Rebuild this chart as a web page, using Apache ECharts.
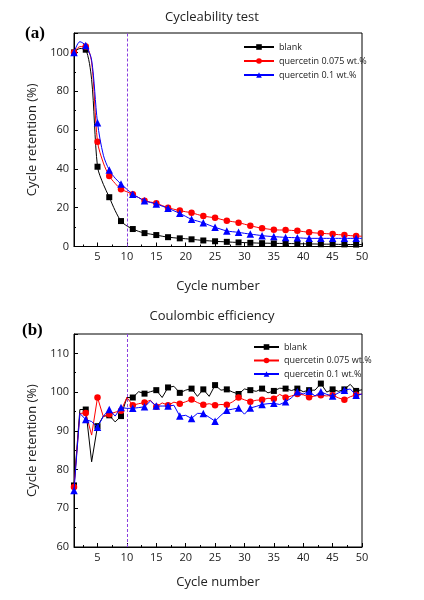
<!DOCTYPE html>
<html>
<head>
<meta charset="utf-8">
<script src="https://cdn.jsdelivr.net/npm/echarts@6/dist/echarts.min.js"></script>
<style>html,body{margin:0;padding:0;background:#fff}#c{width:424px;height:600px}</style>
</head>
<body>
<div id="c"></div>
<script>
var cycles = [1,2,3,4,5,6,7,8,9,10,11,12,13,14,15,16,17,18,19,20,21,22,23,24,25,26,27,28,29,30,31,32,33,34,35,36,37,38,39,40,41,42,43,44,45,46,47,48,49,50];
var seriesNames = ['blank', 'quercetin 0.075 wt.%', 'quercetin 0.1 wt.%'];

// (a) Cycle retention (%)
var blankRet = [100,102,101.4,86,41.1,32,25.4,18.5,13.1,10.6,9.0,7.8,6.9,6.4,5.9,5.3,4.8,4.5,4.2,4.0,3.7,3.4,3.1,2.9,2.7,2.5,2.4,2.2,2.1,2.0,1.9,1.8,1.7,1.7,1.6,1.6,1.5,1.5,1.4,1.4,1.3,1.3,1.2,1.2,1.2,1.1,1.1,1.0,1.0,1.0];
var q075Ret = [100,103,103,95,54,43,36.3,32.5,29.5,28.2,26.9,25.2,23.6,22.9,22.3,21.1,20.0,19.2,18.5,17.9,17.4,16.5,15.7,15.2,14.8,14.0,13.3,12.8,12.3,11.5,10.7,10.0,9.4,9.0,8.6,8.5,8.5,8.3,8.1,7.7,7.3,7.0,6.8,6.6,6.4,6.1,5.9,5.6,5.4,5.3];
var q01Ret = [100,105.5,103.5,96,63.8,47,39.4,35.2,32.2,29.5,26.9,25.2,23.6,22.7,21.9,20.8,19.7,18.4,17.1,15.5,14.0,13.1,12.2,11.0,9.9,8.9,8.0,7.6,7.3,6.8,6.4,6.0,5.6,5.3,5.1,4.9,4.7,4.6,4.5,4.3,4.2,4.2,4.2,4.2,4.2,4.2,4.2,4.2,4.2,4.2];

// (b) Coulombic efficiency (%)
var blankCE = [75.9,95.5,95.5,82.0,91.2,93.8,94.0,92.3,93.8,98.6,98.6,100.1,99.6,100.1,100.5,98.6,101.2,101.5,99.8,100.5,100.9,98.9,100.7,98.9,101.8,100.5,100.7,100.0,99.5,100.8,100.5,100.2,100.9,99.8,100.3,101.0,100.9,100.4,100.9,100.1,100.5,100.5,102.2,100.0,100.7,100.2,100.7,102.0,100.3,100.6];
var q075CE = [75.5,94.5,94.6,88.9,98.6,93.6,94.3,94.8,95.2,98.6,96.6,97.0,97.3,97.9,96.2,97.2,96.6,97.4,97.0,97.5,98.1,97.3,96.7,97.0,96.6,96.8,96.7,97.5,98.6,98.0,97.5,97.9,98.0,98.4,98.3,99.4,98.6,99.0,99.5,99.3,98.7,99.0,99.2,99.0,99.2,98.5,98.0,98.8,99.3,99.5];
var q01CE = [74.6,94.5,92.9,92.4,90.9,93.8,95.5,93.8,96.0,95.8,95.8,96.0,96.2,97.7,96.4,96.4,96.4,96.6,93.8,94.0,93.2,94.5,94.5,93.5,92.5,94.0,95.3,95.6,95.9,94.3,95.9,96.3,96.8,97.0,97.1,96.8,97.5,98.5,100.1,99.5,100.2,99.0,100.1,99.4,99.0,99.8,100.5,100.8,99.2,99.5];

var retTicks = [0,20,40,60,80,100];
var ceTicks = [60,70,80,90,100,110];
var xTicks = [5,10,15,20,25,30,35,40,45,50];

function pairs(vals){ return cycles.map(function(c,i){ return [c, vals[i]]; }); }

var colors = ['#000000', '#ff0000', '#0000ff'];
var symbols = ['rect', 'circle', 'triangle'];
var sizes = [6, 6.5, 7.5];
var FONT = 'Open Sans';

function xAxisCfg(idx, gap){
  return {
    type: 'value', gridIndex: idx, min: 1, max: 50, splitNumber: 10,
    axisLine: {show: true, onZero: false, lineStyle: {color: '#000', width: 1}},
    axisTick: {show: true, inside: true, length: 4, lineStyle: {color: '#000'}},
    minorTick: {show: true, splitNumber: 2, length: 2, lineStyle: {color: '#000'}},
    splitLine: {show: false},
    axisLabel: {color: '#222', fontSize: 11, fontFamily: FONT, margin: 5,
      formatter: function(v){ return xTicks.indexOf(v) >= 0 ? String(v) : ''; }},
    name: 'Cycle number', nameLocation: 'middle', nameGap: gap,
    nameTextStyle: {color: '#222', fontSize: 13, fontFamily: FONT}
  };
}
function yAxisCfg(idx, mn, mx, iv, ticks){
  return {
    type: 'value', gridIndex: idx, min: mn, max: mx, interval: iv,
    axisLine: {show: true, lineStyle: {color: '#000', width: 1}},
    axisTick: {show: true, inside: true, length: 4, lineStyle: {color: '#000'}},
    minorTick: {show: true, splitNumber: 2, length: 2, lineStyle: {color: '#000'}},
    splitLine: {show: false},
    axisLabel: {color: '#222', fontSize: 11, fontFamily: FONT, margin: 5,
      formatter: function(v){ return ticks.indexOf(v) >= 0 ? String(v) : ''; }},
    name: 'Cycle retention (%)', nameLocation: 'middle', nameGap: 27,
    nameTextStyle: {color: '#222', fontSize: 13, fontFamily: FONT}
  };
}

function mkSeries(gi, k, vals, withLine, smooth){
  var s = {
    type: 'line', name: seriesNames[k], xAxisIndex: gi, yAxisIndex: gi,
    data: pairs(vals), symbol: symbols[k], smooth: smooth,
    symbolSize: (function(sz){ return function(v, p){ return p.dataIndex % 2 === 0 ? sz : 0; }; })(sizes[k]),
    showAllSymbol: true,
    itemStyle: {color: colors[k]},
    lineStyle: {color: colors[k], width: 1},
    animation: false, z: 2 + k
  };
  if (withLine) {
    s.markLine = {silent: true, symbol: 'none', label: {show: false}, z: 10,
      lineStyle: {color: '#8a3ee0', type: [3, 2], width: 1, opacity: 1},
      emphasis: {disabled: true},
      data: [{xAxis: 10, lineStyle: {color: '#8a3ee0'}}]};
  }
  return s;
}

var chart = echarts.init(document.getElementById('c'), null, {renderer: 'canvas'});
chart.setOption({
  backgroundColor: '#fff',
  animation: false,
  title: [
    {text: 'Cycleability test', left: 'center', top: 6, textStyle: {fontSize: 13, fontWeight: 'normal', color: '#222', fontFamily: FONT}},
    {text: 'Coulombic efficiency', left: 'center', top: 305, textStyle: {fontSize: 13, fontWeight: 'normal', color: '#222', fontFamily: FONT}},
    {text: '(a)', left: 20, top: 20, textStyle: {fontSize: 17, fontWeight: 'bold', color: '#000', fontFamily: 'Liberation Serif'}},
    {text: '(b)', left: 17, top: 317, textStyle: {fontSize: 17, fontWeight: 'bold', color: '#000', fontFamily: 'Liberation Serif'}}
  ],
  grid: [
    {left: 74, top: 33, width: 288, height: 213.5, show: true, borderColor: '#000', borderWidth: 1, backgroundColor: 'transparent'},
    {left: 74, top: 334, width: 288, height: 213, show: true, borderColor: '#000', borderWidth: 1, backgroundColor: 'transparent'}
  ],
  legend: [
    {orient: 'vertical', left: 238, top: 37, itemWidth: 30, itemHeight: 7, itemGap: 4, data: seriesNames,
      textStyle: {fontSize: 9, lineHeight: 10, color: '#222', fontFamily: FONT}, selectedMode: false},
    {orient: 'vertical', left: 248, top: 337, itemWidth: 25, itemHeight: 7, itemGap: 3.5, data: seriesNames,
      textStyle: {fontSize: 9, lineHeight: 10, color: '#222', fontFamily: FONT}, selectedMode: false}
  ],
  xAxis: [xAxisCfg(0, 33), xAxisCfg(1, 29)],
  yAxis: [yAxisCfg(0, 0, 110, 20, retTicks), yAxisCfg(1, 60, 115, 10, ceTicks)],
  series: [
    mkSeries(0, 0, blankRet, true, 0.3), mkSeries(0, 1, q075Ret, false, 0.3), mkSeries(0, 2, q01Ret, false, 0.3),
    mkSeries(1, 0, blankCE, true, false), mkSeries(1, 1, q075CE, false, false), mkSeries(1, 2, q01CE, false, false)
  ]
});
</script>
</body>
</html>
